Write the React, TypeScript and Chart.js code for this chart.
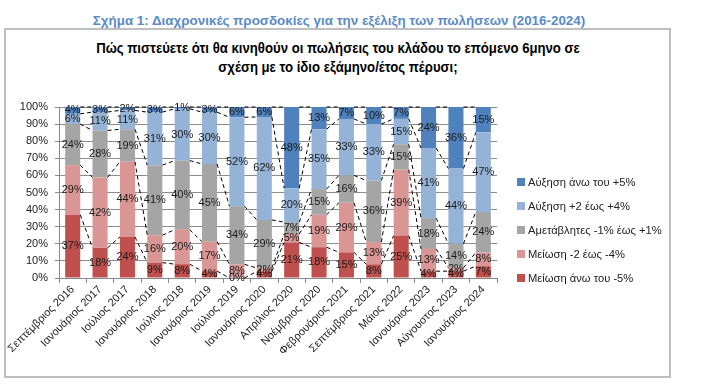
import React, { useEffect, useRef } from "react";
import { Chart, registerables } from "chart.js";

Chart.register(...registerables);

const categories = [
  "Σεπτέμβριος 2016",
  "Ιανουάριος 2017",
  "Ιούλιος 2017",
  "Ιανουάριος 2018",
  "Ιούλιος 2018",
  "Ιανουάριος 2019",
  "Ιούλιος 2019",
  "Ιανουάριος 2020",
  "Απρίλιος 2020",
  "Νοέμβριος 2020",
  "Φεβρουάριος 2021",
  "Σεπτέμβριος 2021",
  "Μάιος 2022",
  "Ιανουάριος 2023",
  "Αύγουστος 2023",
  "Ιανουάριος 2024",
];

const decreaseOver5 = [37, 18, 24, 9, 8, 4, 0, 4, 21, 18, 15, 8, 25, 4, 4, 7];
const decrease2to4 = [29, 42, 44, 16, 20, 17, 8, 2, 5, 19, 29, 13, 39, 13, 2, 8];
const unchanged = [24, 28, 19, 41, 40, 45, 34, 29, 7, 15, 16, 36, 15, 18, 14, 24];
const increase2to4 = [6, 11, 11, 31, 30, 30, 52, 62, 20, 35, 33, 33, 15, 41, 44, 47];
const increaseOver5 = [4, 3, 2, 3, 1, 3, 6, 6, 48, 13, 7, 10, 7, 24, 36, 15];

const seriesNames = [
  "Μείωση άνω του -5%",
  "Μείωση -2 έως -4%",
  "Αμετάβλητες -1% έως +1%",
  "Αύξηση +2 έως +4%",
  "Αύξηση άνω του +5%",
];
const seriesValues = [decreaseOver5, decrease2to4, unchanged, increase2to4, increaseOver5];
const seriesColors = ["#C0504D", "#D99694", "#A5A5A5", "#95B3D7", "#4F81BD"];

const yTicks = [0, 10, 20, 30, 40, 50, 60, 70, 80, 90, 100];

const FONT = "'Liberation Sans', Arial, sans-serif";

const overlayPlugin = {
  id: "overlay",
  afterDatasetsDraw(chart: any) {
    const ctx = chart.ctx;
    ctx.save();
    // series lines
    ctx.setLineDash([4, 3]);
    ctx.strokeStyle = "#000";
    ctx.lineWidth = 1;
    chart.data.datasets.forEach((_ds: any, i: number) => {
      const meta = chart.getDatasetMeta(i);
      for (let j = 0; j < meta.data.length - 1; j++) {
        const a = meta.data[j];
        const b = meta.data[j + 1];
        ctx.beginPath();
        ctx.moveTo(a.x + a.width / 2, a.y);
        ctx.lineTo(b.x - b.width / 2, b.y);
        ctx.stroke();
      }
    });
    ctx.setLineDash([]);
    // value labels
    ctx.font = `11px ${FONT}`;
    ctx.fillStyle = "#1a1a1a";
    ctx.textAlign = "center";
    ctx.textBaseline = "middle";
    chart.data.datasets.forEach((ds: any, i: number) => {
      const meta = chart.getDatasetMeta(i);
      meta.data.forEach((el: any, j: number) => {
        const raw = ds.rawValues[j];
        ctx.fillText(raw + "%", el.x, (el.y + el.base) / 2);
      });
    });
    ctx.restore();
  },
};

export default function App() {
  const canvasRef = useRef<HTMLCanvasElement>(null);

  useEffect(() => {
    const totals = categories.map((_c, j) =>
      seriesValues.reduce((s, arr) => s + arr[j], 0)
    );
    const datasets = seriesValues.map((arr, i) => ({
      label: seriesNames[i],
      data: arr.map((v, j) => (v / totals[j]) * 100),
      rawValues: arr,
      backgroundColor: seriesColors[i],
      borderWidth: 0,
      barPercentage: 0.55,
      categoryPercentage: 1,
    }));
    const chart = new Chart(canvasRef.current as HTMLCanvasElement, {
      type: "bar",
      data: { labels: categories, datasets: datasets as any },
      options: {
        responsive: false,
        animation: false,
        layout: { padding: { left: 0, top: 107, right: 206, bottom: 24 } },
        plugins: {
          legend: { display: false },
          tooltip: { enabled: false },
          title: { display: false },
        },
        scales: {
          x: {
            stacked: true,
            offset: true,
            grid: {
              display: true,
              offset: true,
              drawOnChartArea: false,
              drawTicks: true,
              tickLength: 5,
              color: "#888",
            },
            border: { color: "#888" },
            ticks: {
              autoSkip: false,
              maxRotation: 45,
              minRotation: 45,
              padding: 0,
              color: "#222",
              font: { family: FONT, size: 11 },
            },
            afterFit: (scale: any) => {
              scale.height = 85;
            },
          } as any,
          y: {
            stacked: true,
            min: 0,
            max: 100,
            afterBuildTicks: (scale: any) => {
              scale.ticks = yTicks.map((v) => ({ value: v }));
            },
            grid: { color: "#8c8c8c", tickLength: 4 },
            border: { color: "#888" },
            ticks: {
              padding: 7,
              color: "#222",
              font: { family: FONT, size: 11 },
              callback: (v: any) => v + "%",
            },
            afterFit: (scale: any) => {
              scale.width = 59;
            },
          } as any,
        },
      },
      plugins: [overlayPlugin],
    });
    return () => chart.destroy();
  }, []);

  const legendOrder = [4, 3, 2, 1, 0];

  return (
    <div
      style={{
        position: "fixed",
        left: 0,
        top: 0,
        width: 703,
        height: 387,
        background: "#fff",
        fontFamily: FONT,
        overflow: "hidden",
      }}
    >
      <div
        style={{
          position: "absolute",
          left: 0,
          top: 13,
          width: 678,
          textAlign: "center",
          color: "#5B8BC6",
          fontWeight: "bold",
          fontSize: 13.4,
          lineHeight: "15px",
          whiteSpace: "nowrap",
        }}
      >
        Σχήμα 1: Διαχρονικές προσδοκίες για την εξέλιξη των πωλήσεων (2016-2024)
      </div>
      <div
        style={{
          position: "absolute",
          left: 4,
          top: 28,
          width: 667,
          height: 350,
          border: "2px solid #BFBFBF",
          boxSizing: "border-box",
        }}
      />
      <div
        style={{
          position: "absolute",
          left: 0,
          top: 38,
          width: 676,
          textAlign: "center",
          color: "#000",
          fontWeight: "bold",
          fontSize: 15,
          lineHeight: "19px",
          transform: "scaleX(0.877)",
          transformOrigin: "338px 0",
        }}
      >
        <div style={{ whiteSpace: "nowrap" }}>
          Πώς πιστεύετε ότι θα κινηθούν οι πωλήσεις του κλάδου το επόμενο 6μηνο σε
        </div>
        <div style={{ whiteSpace: "nowrap" }}>σχέση με το ίδιο εξάμηνο/έτος πέρυσι;</div>
      </div>
      <canvas
        ref={canvasRef}
        width={703}
        height={387}
        style={{ position: "absolute", left: 0, top: 0, width: 703, height: 387 }}
      />
      <div style={{ position: "absolute", left: 517, top: 170 }}>
        {legendOrder.map((i) => (
          <div
            key={i}
            style={{
              display: "flex",
              alignItems: "center",
              height: 24,
              fontSize: 11.2,
              color: "#222",
              whiteSpace: "nowrap",
            }}
          >
            <span
              style={{
                display: "inline-block",
                width: 8,
                height: 8,
                background: seriesColors[i],
                marginRight: 3,
              }}
            />
            {seriesNames[i]}
          </div>
        ))}
      </div>
    </div>
  );
}
